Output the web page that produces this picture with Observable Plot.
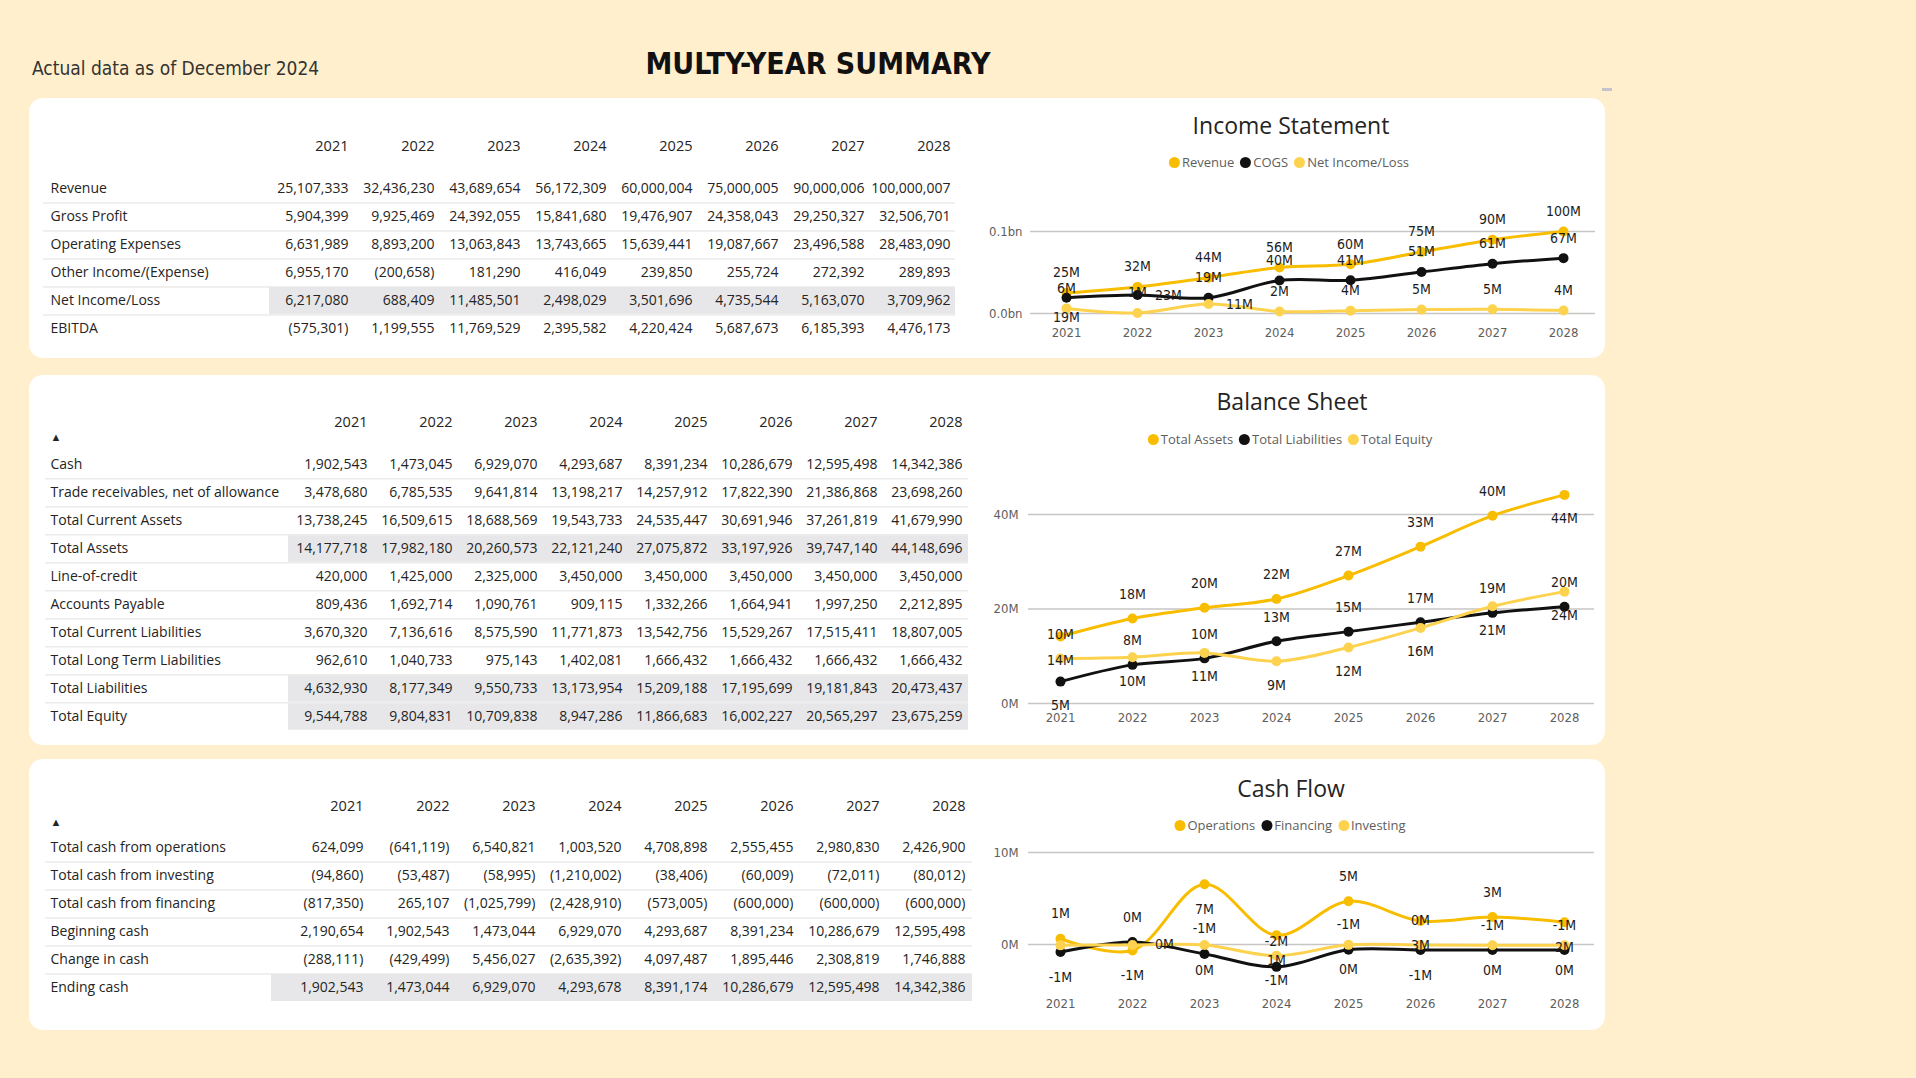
<!DOCTYPE html>
<html><head><meta charset="utf-8">
<script src="https://cdn.jsdelivr.net/npm/d3@7"></script>
<script src="https://cdn.jsdelivr.net/npm/@observablehq/plot@0.6"></script>
<style>
body{margin:0;background:#FFEFCC;}
#page{position:relative;width:1916px;height:1078px;overflow:hidden;background:#FFEFCC;font-family:"Open Sans",sans-serif;}
.panel{position:absolute;background:#fff;border-radius:14px;}
.abs{position:absolute;}
.ctitle{position:absolute;transform:translate(-50%,-50%);font-size:23px;color:#252423;white-space:nowrap;font-family:"Open Sans",sans-serif;}
.legend{position:absolute;transform:translate(-50%,-50%);display:flex;align-items:center;font-size:13px;color:#605E5C;white-space:nowrap;font-family:"Open Sans",sans-serif;}
.legend .item{display:flex;align-items:center;margin:0 3px;}
.legend .dot{display:inline-block;width:11px;height:11px;border-radius:50%;margin-right:2px;}
.din{font-family:"DejaVu Sans Condensed","Liberation Sans Narrow",Roboto,sans-serif;}
</style></head>
<body>
<div id="page">
  <div class="abs din" style="left:32px;top:57px;font-size:19px;color:#333;white-space:nowrap;">Actual data as of December 2024</div>
  <div class="abs din" style="left:818px;top:63px;transform:translate(-50%,-50%);font-size:30px;font-weight:bold;color:#111;white-space:nowrap;">MULTY-YEAR SUMMARY</div>
  <div class="abs" style="left:1602px;top:88px;width:10px;height:3px;background:#C5C3CC;"></div>
  <div class="panel" style="left:29px;top:98px;width:1576px;height:260px;"></div>
  <div class="panel" style="left:29px;top:375px;width:1576px;height:370px;"></div>
  <div class="panel" style="left:29px;top:759px;width:1576px;height:271px;"></div>
</div>
<script>
// ---------- DATA ----------
const years = [2021, 2022, 2023, 2024, 2025, 2026, 2027, 2028];

// Income statement
const incomeRows = ["Revenue", "Gross Profit", "Operating Expenses", "Other Income/(Expense)", "Net Income/Loss", "EBITDA"];
const revenue = [25107333, 32436230, 43689654, 56172309, 60000004, 75000005, 90000006, 100000007];
const grossProfit = [5904399, 9925469, 24392055, 15841680, 19476907, 24358043, 29250327, 32506701];
const operatingExpenses = [6631989, 8893200, 13063843, 13743665, 15639441, 19087667, 23496588, 28483090];
const otherIncome = [6955170, -200658, 181290, 416049, 239850, 255724, 272392, 289893];
const netIncome = [6217080, 688409, 11485501, 2498029, 3501696, 4735544, 5163070, 3709962];
const ebitda = [-575301, 1199555, 11769529, 2395582, 4220424, 5687673, 6185393, 4476173];
const cogs = [19202934, 22510761, 19297599, 40330629, 40523097, 50641962, 60749679, 67493306];

// Balance sheet
const balanceRows = ["Cash", "Trade receivables, net of allowance", "Total Current Assets", "Total Assets", "Line-of-credit", "Accounts Payable", "Total Current Liabilities", "Total Long Term Liabilities", "Total Liabilities", "Total Equity"];
const cash = [1902543, 1473045, 6929070, 4293687, 8391234, 10286679, 12595498, 14342386];
const tradeReceivables = [3478680, 6785535, 9641814, 13198217, 14257912, 17822390, 21386868, 23698260];
const totalCurrentAssets = [13738245, 16509615, 18688569, 19543733, 24535447, 30691946, 37261819, 41679990];
const totalAssets = [14177718, 17982180, 20260573, 22121240, 27075872, 33197926, 39747140, 44148696];
const lineOfCredit = [420000, 1425000, 2325000, 3450000, 3450000, 3450000, 3450000, 3450000];
const accountsPayable = [809436, 1692714, 1090761, 909115, 1332266, 1664941, 1997250, 2212895];
const totalCurrentLiabilities = [3670320, 7136616, 8575590, 11771873, 13542756, 15529267, 17515411, 18807005];
const totalLongTermLiabilities = [962610, 1040733, 975143, 1402081, 1666432, 1666432, 1666432, 1666432];
const totalLiabilities = [4632930, 8177349, 9550733, 13173954, 15209188, 17195699, 19181843, 20473437];
const totalEquity = [9544788, 9804831, 10709838, 8947286, 11866683, 16002227, 20565297, 23675259];

// Cash flow
const cashRows = ["Total cash from operations", "Total cash from investing", "Total cash from financing", "Beginning cash", "Change in cash", "Ending cash"];
const cashOperations = [624099, -641119, 6540821, 1003520, 4708898, 2555455, 2980830, 2426900];
const cashInvesting = [-94860, -53487, -58995, -1210002, -38406, -60009, -72011, -80012];
const cashFinancing = [-817350, 265107, -1025799, -2428910, -573005, -600000, -600000, -600000];
const beginningCash = [2190654, 1902543, 1473044, 6929070, 4293687, 8391234, 10286679, 12595498];
const changeInCash = [-288111, -429499, 5456027, -2635392, 4097487, 1895446, 2308819, 1746888];
const endingCash = [1902543, 1473044, 6929070, 4293678, 8391174, 10286679, 12595498, 14342386];

// ---------- STYLE ----------
const GOLD = "#F9BD00", BLACK = "#111111", LIGHT = "#FDD24E";
const DIN = "'DejaVu Sans Condensed','Liberation Sans Narrow',Roboto,sans-serif";
const page = document.getElementById("page");

// data label placement (styling, not data)
const placeIncome = {
  "Revenue": ["a","a","a","a","a","a","a","a"],
  "COGS": ["b","r","a","a","a","a","a","a"],
  "Net Income/Loss": ["a","a","r","a","a","a","a","a"]
};
const placeBalance = {
  "Total Assets": ["b","a","a","a","a","a","a","b"],
  "Total Liabilities": ["b","a","a","a","a","a","a","a"],
  "Total Equity": ["a","b","b","b","b","b","b","b"]
};
const placeCash = {
  "Operations": ["a","b","b","b","a","b","a","b"],
  "Financing": ["b","a","a","a","a","b","a","a"],
  "Investing": ["n","r","b","b","b","a","b","b"]
};

const fmtInt = d3.format(",");
const fmtAcct = v => v < 0 ? `(${fmtInt(-v)})` : fmtInt(v);
const fmtM = v => `${Math.round(v / 1e6)}M`.replace("-0M", "0M");

function place(node, left, top) {
  const d = document.createElement("div");
  d.className = "abs";
  d.style.left = left + "px"; d.style.top = top + "px";
  d.appendChild(node);
  page.appendChild(d);
}

function tablePlot(o) {
  const cells = [];
  o.rows.forEach((r, i) => years.forEach((y, j) => cells.push({row: r, year: y, value: o.values[i][j]})));
  const step = (o.rowY1 - o.rowY0) / (o.rows.length - 1);
  const marks = [
    Plot.ruleY(o.rows.slice(0, -1), {y: d => d, dy: step / 2, stroke: "#EDEBE9", strokeWidth: 1.5, insetLeft: -(o.shadeX0 - o.sepX0)}),
    Plot.ruleY(o.shaded, {y: d => d, stroke: "#E7E7EA", strokeWidth: step - 2}),
    Plot.text(years, {x: d => d, frameAnchor: "top", lineAnchor: "middle", text: d => String(d), textAnchor: "end", fill: "#252423", fontSize: 14.5}),
    Plot.text(o.rows, {y: d => d, frameAnchor: "left", textAnchor: "start", dx: o.labelX - o.shadeX0, text: d => d, fill: "#252423"}),
    Plot.text(cells, {x: "year", y: "row", text: d => fmtAcct(d.value), textAnchor: "end", fill: "#252423"})
  ];
  if (o.arrow) marks.push(Plot.text(["▲"], {frameAnchor: "top-left", lineAnchor: "middle", text: d => d, dx: o.arrow[0] - o.shadeX0, dy: o.arrow[1] - o.headerY, fontSize: 11, fill: "#252423"}));
  const svg = Plot.plot({
    width: o.width, height: o.height,
    marginLeft: o.shadeX0 - o.left, marginRight: o.width - (o.shadeX1 - o.left),
    marginTop: o.headerY - o.top, marginBottom: 10,
    x: {type: "point", domain: years, range: [o.colX0 - o.left, o.colX1 - o.left], padding: 0, axis: null},
    y: {type: "point", domain: o.rows, range: [o.rowY0 - o.top, o.rowY1 - o.top], padding: 0, axis: null},
    style: {fontFamily: "'Open Sans',sans-serif", fontSize: "14px", background: "transparent", overflow: "visible"},
    marks
  });
  place(svg, o.left, o.top);
}

function lineChart(o) {
  const data = [];
  o.series.forEach((s, i) => years.forEach((y, j) => data.push({series: s, year: y, value: o.values[i][j], p: o.placement[s][j]})));
  const lab = {fill: "#1d1d1d", fontSize: 14, text: d => fmtM(d.value), x: "year", y: "value"};
  const svg = Plot.plot({
    width: o.width, height: o.height,
    marginLeft: o.gridX0 - o.left, marginRight: o.width - (o.gridX1 - o.left),
    marginTop: 0, marginBottom: o.height - (o.yRange[0] - o.top) + (o.axisDrop || 0),
    x: {type: "point", domain: years, range: [o.x0 - o.left, o.x1 - o.left], padding: 0, label: null},
    y: {domain: o.yDomain, range: [o.yRange[0] - o.top, o.yRange[1] - o.top], label: null},
    color: {domain: o.series, range: [GOLD, BLACK, LIGHT]},
    style: {fontFamily: DIN, fontSize: "13px", color: "#605E5C", background: "transparent", overflow: "visible"},
    marks: [
      Plot.ruleY(o.grid, {stroke: "#C8C6C4", strokeWidth: 1.5}),
      Plot.axisY({ticks: o.grid, tickFormat: o.tickFormat, tickSize: 0, tickPadding: o.yPad, label: null}),
      Plot.axisX({tickSize: 0, tickPadding: o.xPad, tickFormat: d => String(d), label: null}),
      Plot.line(data, {x: "year", y: "value", z: "series", stroke: "series", curve: "catmull-rom", strokeWidth: 3}),
      Plot.dot(data, {x: "year", y: "value", fill: "series", r: 5}),
      Plot.text(data.filter(d => d.p === "a"), {...lab, dy: -o.off}),
      Plot.text(data.filter(d => d.p === "b"), {...lab, dy: o.off}),
      Plot.text(data.filter(d => d.p === "r"), {...lab, dx: o.rdx})
    ]
  });
  place(svg, o.left, o.top);
  const t = document.createElement("div");
  t.className = "ctitle"; t.textContent = o.title;
  t.style.left = o.titlePos[0] + "px"; t.style.top = o.titlePos[1] + "px";
  page.appendChild(t);
  const lg = document.createElement("div");
  lg.className = "legend";
  lg.style.left = o.legendPos[0] + "px"; lg.style.top = o.legendPos[1] + "px";
  o.series.forEach((s, i) => {
    const it = document.createElement("span"); it.className = "item";
    const dot = document.createElement("span"); dot.className = "dot"; dot.style.background = [GOLD, BLACK, LIGHT][i];
    it.appendChild(dot); it.appendChild(document.createTextNode(s));
    lg.appendChild(it);
  });
  page.appendChild(lg);
}

// ---------- TABLES ----------
tablePlot({rows: incomeRows, values: [revenue, grossProfit, operatingExpenses, otherIncome, netIncome, ebitda],
  shaded: ["Net Income/Loss"], left: 29, top: 98, width: 950, height: 260, headerY: 146,
  rowY0: 185.7, rowY1: 329.6, colX0: 347, colX1: 950, shadeX0: 269, shadeX1: 955, labelX: 50, sepX0: 43});
tablePlot({rows: balanceRows, values: [cash, tradeReceivables, totalCurrentAssets, totalAssets, lineOfCredit, accountsPayable, totalCurrentLiabilities, totalLongTermLiabilities, totalLiabilities, totalEquity],
  shaded: ["Total Assets", "Total Liabilities", "Total Equity"], left: 29, top: 375, width: 950, height: 370, headerY: 421.5,
  rowY0: 461, rowY1: 719, colX0: 367, colX1: 962, shadeX0: 288, shadeX1: 968, labelX: 50, sepX0: 45, arrow: [50, 437]});
tablePlot({rows: cashRows, values: [cashOperations, cashInvesting, cashFinancing, beginningCash, changeInCash, endingCash],
  shaded: ["Ending cash"], left: 29, top: 759, width: 950, height: 271, headerY: 806,
  rowY0: 845, rowY1: 989, colX0: 361, colX1: 966, shadeX0: 271, shadeX1: 972, labelX: 50, sepX0: 45, arrow: [50, 822]});

// ---------- CHARTS ----------
lineChart({title: "Income Statement", titlePos: [1291, 125], legendPos: [1289, 162],
  series: ["Revenue", "COGS", "Net Income/Loss"], values: [revenue, cogs, netIncome], placement: placeIncome,
  left: 980, top: 175, width: 625, height: 175, gridX0: 1030, gridX1: 1595, x0: 1063, x1: 1565,
  yDomain: [0, 1e8], yRange: [313, 231], grid: [0, 1e8], tickFormat: d => (d / 1e9).toFixed(1) + "bn",
  yPad: 8, xPad: 14, off: 20, rdx: 31});
lineChart({title: "Balance Sheet", titlePos: [1292, 401], legendPos: [1290, 439],
  series: ["Total Assets", "Total Liabilities", "Total Equity"], values: [totalAssets, totalLiabilities, totalEquity], placement: placeBalance,
  left: 980, top: 460, width: 625, height: 275, gridX0: 1028, gridX1: 1594, x0: 1058, x1: 1565,
  yDomain: [0, 4e7], yRange: [703, 514], grid: [0, 2e7, 4e7], tickFormat: d => (d / 1e6) + "M",
  yPad: 10, xPad: 9, off: 24, rdx: 31});
lineChart({title: "Cash Flow", titlePos: [1291, 788], legendPos: [1290, 825],
  series: ["Operations", "Financing", "Investing"], values: [cashOperations, cashFinancing, cashInvesting], placement: placeCash,
  left: 980, top: 840, width: 625, height: 180, gridX0: 1028, gridX1: 1594, x0: 1058, x1: 1565,
  yDomain: [0, 1e7], yRange: [944, 852], grid: [0, 1e7], tickFormat: d => (d / 1e6) + "M",
  yPad: 10, xPad: 8, off: 25, rdx: 32, axisDrop: -46});
</script>
</body></html>
